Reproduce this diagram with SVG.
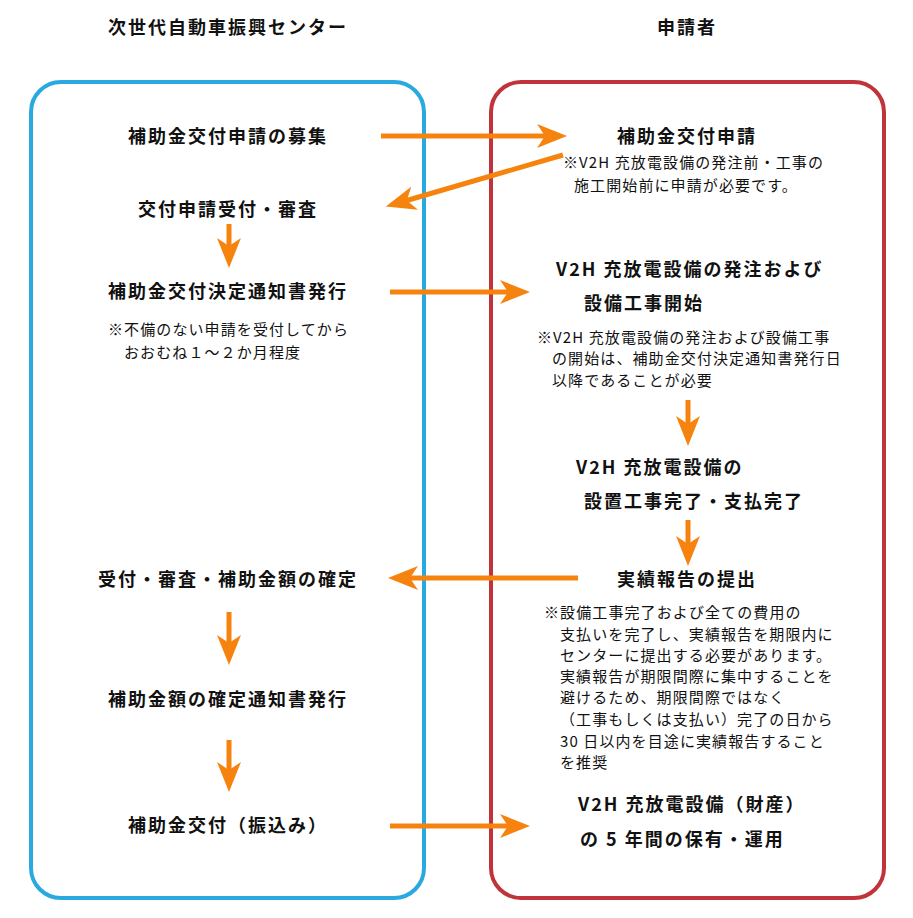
<svg xmlns="http://www.w3.org/2000/svg" width="913" height="918" viewBox="0 0 913 918">
<style>
.h{font-family:"Noto Sans CJK JP","Noto Sans",sans-serif;font-weight:bold;font-size:18px;letter-spacing:2px;fill:#111}
.n{font-family:"Noto Sans CJK JP","Noto Sans",sans-serif;font-size:15px;letter-spacing:1.1px;fill:#111}
.c{text-anchor:middle}
.ar{stroke:#f7830f;stroke-width:5;fill:none;marker-end:url(#ah)}
</style>
<defs>
<marker id="ah" viewBox="0 0 30 24" markerWidth="30" markerHeight="24" refX="10" refY="12" orient="auto" markerUnits="userSpaceOnUse">
<path d="M0,0 L30,12 L0,24 L8,12 z" fill="#f7830f"/>
</marker>
</defs>
<rect width="913" height="918" fill="#fff"/>
<g id="left-lane">
<rect x="31" y="82" width="393" height="816" rx="30" fill="none" stroke="#29a9e0" stroke-width="4"/>
<text class="h c" x="228" y="34">次世代自動車振興センター</text>
</g>
<g id="right-lane">
<rect x="491" y="82" width="393" height="816" rx="30" fill="none" stroke="#c0333b" stroke-width="4"/>
<text class="h c" x="687" y="34">申請者</text>
</g>
<g id="connectors">
<line class="ar" x1="381" y1="136" x2="547" y2="136"/>
<line class="ar" x1="563" y1="155" x2="405" y2="201"/>
<line class="ar" x1="229" y1="224" x2="229" y2="248"/>
<line class="ar" x1="390" y1="292" x2="510" y2="292"/>
<line class="ar" x1="688" y1="400" x2="688" y2="426"/>
<line class="ar" x1="688" y1="520" x2="688" y2="546"/>
<line class="ar" x1="578" y1="578" x2="408" y2="578"/>
<line class="ar" x1="229" y1="612" x2="229" y2="645"/>
<line class="ar" x1="229" y1="740" x2="229" y2="772"/>
<line class="ar" x1="390" y1="826" x2="510" y2="826"/>
</g>
<g id="n1"><text class="h c" x="228" y="143">補助金交付申請の募集</text></g>
<g id="n2"><text class="h c" x="228" y="216">交付申請受付・審査</text></g>
<g id="n3"><text class="h c" x="228" y="298">補助金交付決定通知書発行</text>
<text class="n" x="108" y="335">※不備のない申請を受付してから</text>
<text class="n" x="124" y="358">おおむね１～２か月程度</text></g>
<g id="n4"><text class="h c" x="228" y="586">受付・審査・補助金額の確定</text></g>
<g id="n5"><text class="h c" x="228" y="706">補助金額の確定通知書発行</text></g>
<g id="n6"><text class="h c" x="228" y="832">補助金交付（振込み）</text></g>
<g id="r1"><text class="h c" x="687" y="143">補助金交付申請</text>
<text class="n" x="563" y="168">※V2H 充放電設備の発注前・工事の</text>
<text class="n" x="574" y="191">施工開始前に申請が必要です。</text></g>
<g id="r2"><text class="h" x="556" y="276">V2H 充放電設備の発注および</text>
<text class="h" x="584" y="310">設備工事開始</text>
<text class="n" x="537" y="343">※V2H 充放電設備の発注および設備工事</text>
<text class="n" x="552" y="364">の開始は、補助金交付決定通知書発行日</text>
<text class="n" x="552" y="386">以降であることが必要</text></g>
<g id="r3"><text class="h" x="576" y="474">V2H 充放電設備の</text>
<text class="h" x="584" y="508">設置工事完了・支払完了</text></g>
<g id="r4"><text class="h c" x="687" y="586">実績報告の提出</text>
<text class="n" x="544" y="618">※設備工事完了および全ての費用の</text>
<text class="n" x="560" y="640">支払いを完了し、実績報告を期限内に</text>
<text class="n" x="560" y="661">センターに提出する必要があります。</text>
<text class="n" x="560" y="682">実績報告が期限間際に集中することを</text>
<text class="n" x="560" y="703">避けるため、期限間際ではなく</text>
<text class="n" x="560" y="725">（工事もしくは支払い）完了の日から</text>
<text class="n" x="560" y="747">30 日以内を目途に実績報告すること</text>
<text class="n" x="560" y="768">を推奨</text></g>
<g id="r5"><text class="h" x="578" y="811">V2H 充放電設備（財産）</text>
<text class="h" x="580" y="846">の 5 年間の保有・運用</text></g>
</svg>
